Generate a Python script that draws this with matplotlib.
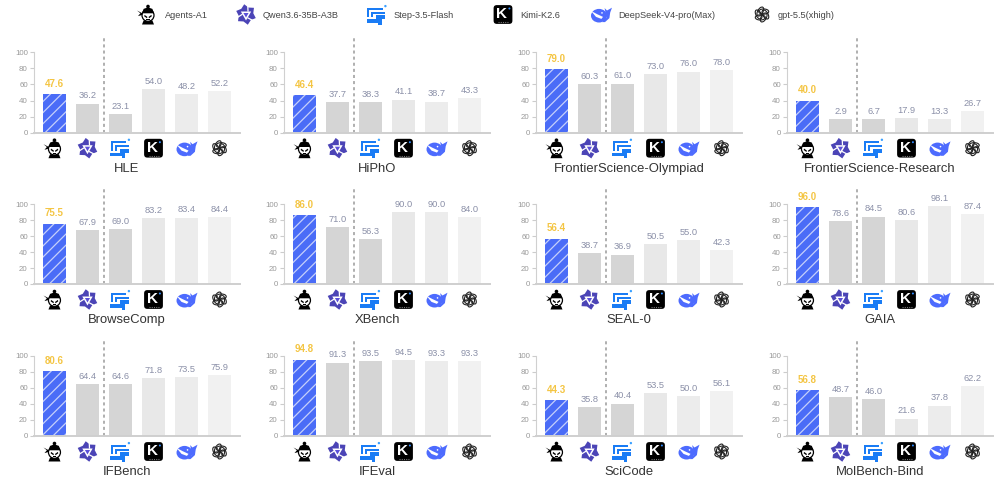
import numpy as np
import matplotlib
matplotlib.use("Agg")
from matplotlib import pyplot as plt
from matplotlib.patches import Circle, Ellipse, FancyBboxPatch, Polygon, Rectangle

plt.rcParams['font.family'] = ['Liberation Sans', 'DejaVu Sans']
plt.rcParams['hatch.color'] = '#c6d0fb'
plt.rcParams['hatch.linewidth'] = 0.9

W, H = 996, 491

models = ['Agents-A1', 'Qwen3.6-35B-A3B', 'Step-3.5-Flash', 'Kimi-K2.6',
          'DeepSeek-V4-pro(Max)', 'gpt-5.5(xhigh)']
icons = ['agent', 'qwen', 'step', 'kimi', 'whale', 'gpt']

# benchmark names, rows left to right
names = ['HLE', 'HiPhO', 'FrontierScience-Olympiad', 'FrontierScience-Research',
         'BrowseComp', 'XBench', 'SEAL-0', 'GAIA',
         'IFBench', 'IFEval', 'SciCode', 'MolBench-Bind']

hle = [47.6, 36.2, 23.1, 54.0, 48.2, 52.2]
hipho = [46.4, 37.7, 38.3, 41.1, 38.7, 43.3]
fs_olympiad = [79.0, 60.3, 61.0, 73.0, 76.0, 78.0]
fs_research = [40.0, 2.9, 6.7, 17.9, 13.3, 26.7]
browsecomp = [75.5, 67.9, 69.0, 83.2, 83.4, 84.4]
xbench = [86.0, 71.0, 56.3, 90.0, 90.0, 84.0]
seal0 = [56.4, 38.7, 36.9, 50.5, 55.0, 42.3]
gaia = [96.0, 78.6, 84.5, 80.6, 98.1, 87.4]
ifbench = [80.6, 64.4, 64.6, 71.8, 73.5, 75.9]
ifeval = [94.8, 91.3, 93.5, 94.5, 93.3, 93.3]
scicode = [44.3, 35.8, 40.4, 53.5, 50.0, 56.1]
molbench = [56.8, 48.7, 46.0, 21.6, 37.8, 62.2]
scores = [hle, hipho, fs_olympiad, fs_research, browsecomp, xbench,
          seal0, gaia, ifbench, ifeval, scicode, molbench]

# the small bars of this panel are drawn taller than their labels say
fs_research_heights = [40.0, 17.0, 17.0, 17.9, 17.0, 26.7]

bar_colors = ['#4a6cf7', '#d5d5d5', '#d5d5d5', '#e8e8e8', '#ececec', '#f1f1f1']
col_left = [34, 284, 536, 787]
row_top = [52.3, 204.3, 355.7]
row_bottom = [132.7, 284.0, 436.0]
axes_w = 206
yticks = [0, 20, 40, 60, 80, 100]


def shape(o, x, y, s, pts, color):
	o.add_patch(Polygon([(x + a*s, y + b*s) for a, b in pts], fc=color, ec='none'))


def draw_agent(o, x, y, s):
	# shoulders, face, hair and the headband tails
	shape(o, x, y, s, [(-.3, .5), (-.22, .3), (.22, .3), (.3, .5)], 'black')
	o.add_patch(Circle((x, y + 0.04*s), 0.3*s, fc='white', ec='black', lw=0.9))
	shape(o, x, y, s, [(-.3, -.06), (-.22, -.28), (0, -.36), (.22, -.28), (.3, -.06)], 'black')
	o.add_patch(Circle((x, y - 0.4*s), 0.09*s, fc='black'))
	shape(o, x, y, s, [(-.55, -.2), (-.28, -.06), (-.28, .02), (-.5, .08), (-.38, -.06)], 'black')
	shape(o, x, y, s, [(-.17, .02), (-.03, .12), (-.05, .19), (-.19, .09)], 'black')
	shape(o, x, y, s, [(.17, .02), (.03, .12), (.05, .19), (.19, .09)], 'black')
	o.add_patch(Rectangle((x - 0.08*s, y + 0.24*s), 0.16*s, 0.03*s, fc='black'))


def draw_qwen(o, x, y, s):
	c = '#4b44b6'
	outer = []
	for i in range(12):
		rad = 0.52 if i % 2 == 0 else 0.37
		t = np.radians(100 + i*30)
		outer.append((rad*np.cos(t), -rad*np.sin(t)))
	shape(o, x, y, s, outer, c)
	ring = [(0.3*np.cos(np.radians(a)), -0.3*np.sin(np.radians(a))) for a in [-90, 30, 150]]
	shape(o, x, y, s, ring, '#ffffff')
	tri = [(0.15*np.cos(np.radians(a)), -0.15*np.sin(np.radians(a))) for a in [-90, 30, 150]]
	shape(o, x, y, s, tri, '#5c50d8')
	# white notches in the frame
	for a in [60, 180, 300]:
		t = np.radians(a)
		o.plot([x + 0.2*s*np.cos(t), x + 0.5*s*np.cos(t + 0.35)],
			   [y - 0.2*s*np.sin(t), y - 0.5*s*np.sin(t + 0.35)], color='white', lw=0.9)


def draw_step(o, x, y, s):
	c = '#1a7cf5'
	shape(o, x, y, s, [(-.48, .14), (-.38, .14), (-.38, -.24), (.3, -.24), (.3, -.34), (-.48, -.34)], c)
	shape(o, x, y, s, [(-.28, .14), (-.18, .14), (-.18, -.04), (.42, -.04), (.42, -.14), (-.28, -.14)], c)
	shape(o, x, y, s, [(-.5, .22), (-.04, .22), (-.04, .04), (.42, .04), (.42, .24), (.24, .24),
					   (.24, .5), (.06, .5), (.06, .4), (-.5, .4)], c)
	o.add_patch(Circle((x + 0.42*s, y - 0.42*s), 0.06*s, fc='#3aa0ff'))


def draw_kimi(o, x, y, s):
	o.add_patch(FancyBboxPatch((x - 0.47*s, y - 0.47*s), 0.94*s, 0.94*s,
							   boxstyle='round,pad=0,rounding_size=%f' % (0.16*s), fc='black', ec='none'))
	o.text(x - 0.06*s, y - 0.02*s, 'K', color='white', fontsize=0.55*s, fontweight='bold', ha='center', va='center')
	o.add_patch(Circle((x + 0.32*s, y - 0.3*s), 0.05*s, fc='#2f8bff'))
	o.plot([x - 0.25*s, x + 0.3*s], [y + 0.37*s, y + 0.37*s], color='#777777', lw=0.8, ls=(0, (1, 1)))


def draw_whale(o, x, y, s):
	c = '#4d6bfe'
	o.add_patch(Ellipse((x - 0.1*s, y + 0.06*s), 0.8*s, 0.68*s, fc=c))
	shape(o, x, y, s, [(.05, .38), (.28, .16), (.22, -.12), (.18, -.32), (.3, -.2), (.55, -.34),
					   (.46, -.1), (.42, .18), (.2, .38)], c)
	shape(o, x, y, s, [(-.5, -.18), (-.2, -.02), (.1, .12), (.02, .22), (-.25, .12)], 'white')
	o.add_patch(Circle((x + 0.05*s, y - 0.08*s), 0.04*s, fc='white'))


def draw_gpt(o, x, y, s):
	for a in range(0, 360, 60):
		t = np.radians(a)
		o.add_patch(Ellipse((x + 0.17*s*np.cos(t), y + 0.17*s*np.sin(t)), 0.5*s, 0.26*s,
							angle=a + 60, fc='none', ec='#222222', lw=0.8))


draw_funcs = {'agent': draw_agent, 'qwen': draw_qwen, 'step': draw_step,
			  'kimi': draw_kimi, 'whale': draw_whale, 'gpt': draw_gpt}

fig = plt.figure(figsize=(W/100, H/100), dpi=100)

# overlay in pixel coordinates for the logos and the legend row
over = fig.add_axes([0, 0, 1, 1], zorder=5)
over.set_xlim(0, W)
over.set_ylim(H, 0)
over.axis('off')

legend_icon_x = [148, 246, 377, 503, 601, 762]
legend_text_x = [165, 262.7, 394, 520.7, 618, 778]
for i in range(len(models)):
	draw_funcs[icons[i]](over, legend_icon_x[i], 14.5, 20)
	over.text(legend_text_x[i], 15, models[i], fontsize=6.55, color='#444444', va='center', ha='left')

for n in range(len(names)):
	r = n // 4
	c = n % 4
	left = col_left[c]
	top = row_top[r]
	bottom = row_bottom[r]
	ax = fig.add_axes([left/W, 1 - bottom/H, axes_w/W, (bottom - top)/H])
	ax.patch.set_alpha(0)
	vals = scores[n]
	heights = fs_research_heights if names[n] == 'FrontierScience-Research' else vals
	x = np.arange(len(vals))
	bars = ax.bar(x, heights, width=0.7, color=bar_colors, linewidth=0)
	bars[0].set_hatch('///')
	for i in range(len(vals)):
		if i == 0:
			ax.text(x[i], heights[i] + 7, '%.1f' % vals[i], color='#f4c543', fontsize=7,
					ha='center', va='bottom', fontweight='bold')
		else:
			ax.text(x[i], heights[i] + 4, '%.1f' % vals[i], color='#8b90a8', fontsize=6.7,
					ha='center', va='bottom')
	ax.plot([1.5, 1.5], [0, 119], color='#9a9a9a', lw=1.1, ls=(0, (2, 2)), clip_on=False)
	ax.set_xlim(-0.62, 5.62)
	ax.set_ylim(0, 100)
	ax.set_xticks([])
	ax.set_yticks(yticks)
	ax.tick_params(axis='y', labelsize=5.7, labelcolor='#999999', color='#cccccc', length=3, width=0.8, pad=1.5)
	for s in ['top', 'right']:
		ax.spines[s].set_visible(False)
	ax.spines['left'].set_color('#d0d0d0')
	ax.spines['left'].set_linewidth(0.8)
	ax.spines['bottom'].set_color('#cfcfcf')
	ax.spines['bottom'].set_linewidth(1.4)
	for i in range(len(vals)):
		cx = left + (x[i] + 0.62) * axes_w / 6.24
		draw_funcs[icons[i]](over, cx, bottom + 15.5, 20)
	over.text(left + axes_w/2 - 10, bottom + 36.2, names[n], fontsize=9.35, color='#333333',
			  ha='center', va='center')

fig.savefig('out.png', dpi=100)
